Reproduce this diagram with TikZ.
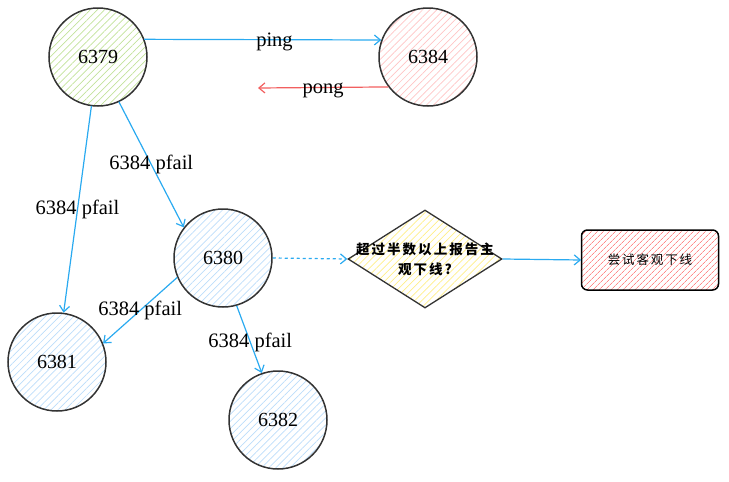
\documentclass[tikz,border=0pt]{standalone}
\usepackage{fontspec}
\setmainfont{Liberation Serif}
\newfontfamily\cjk[LetterSpace=15]{Noto Sans CJK SC}
\usetikzlibrary{arrows.meta,patterns.meta,shapes.geometric}

\definecolor{inkgray}{HTML}{333333}
\definecolor{linkblue}{HTML}{2AAAF0}
\definecolor{pongred}{HTML}{F25F5F}
\definecolor{hgreen}{HTML}{C2E29A}
\definecolor{hpink}{HTML}{FFC4C4}
\definecolor{hblue}{HTML}{BCDDFA}
\definecolor{hyellow}{HTML}{FFEE88}
\definecolor{hred}{HTML}{FF8A8A}

\begin{document}
\begin{tikzpicture}[x=1pt,y=1pt,>={Straight Barb[length=6pt,width=10pt]},
    port/.style={circle,draw=inkgray,line width=1.5pt,minimum size=98pt,inner sep=0pt,
      font=\fontsize{20}{24}\selectfont},
    hatch/.style={pattern={Lines[angle=45,distance=5pt,line width=0.7pt]},pattern color=#1},
    link/.style={->,draw=linkblue,line width=1.2pt},
    lbl/.style={font=\fontsize{20.5}{24}\selectfont,inner sep=1pt}]
    \useasboundingbox (0,0) rectangle (729,-482);
    % cluster nodes
    \node[port,hatch=hgreen] (n6379) at (98,-57) {6379};
    \node[port,hatch=hpink] (n6384) at (428,-57) {6384};
    \node[port,hatch=hblue] (n6380) at (223,-258) {6380};
    \node[port,hatch=hblue] (n6381) at (57,-362) {6381};
    \node[port,hatch=hblue] (n6382) at (278,-420) {6382};
    % decision and result
    \node[diamond,draw=inkgray,line width=1.3pt,minimum width=154pt,minimum height=98pt,
      inner sep=0pt,hatch=hyellow] (chk) at (425,-259) {};
    \node[font=\cjk\bfseries\fontsize{13.5}{20}\selectfont,align=center] (chktxt) at (chk)
      {超过半数以上报告主\\观下线?};
    \node[rectangle,rounded corners=6pt,draw=black,line width=1.5pt,minimum width=137pt,
      minimum height=60pt,pattern={Lines[angle=45,distance=4pt,line width=0.8pt]},
      pattern color=hred,font=\cjk\fontsize{12.5}{15}\selectfont] (odown) at (650,-260) {尝试客观下线};
    \coordinate (pongend) at (258,-88);
    % messages
    \draw[link] (n6379.21) -- node[lbl,pos=0.55,yshift=-2pt] {ping} (n6384.160);
    \draw[->,draw=pongred,line width=1.2pt] (n6384.217) -- node[lbl,pos=0.5,yshift=-3pt] {pong} (pongend);
    \draw[link] (n6379) -- node[lbl,pos=0.5] {6384 pfail} (n6381);
    \draw[link] (n6379.-65) -- node[lbl,pos=0.5] {6384 pfail} (n6380.142);
    \draw[link] (n6380.203) -- node[lbl,pos=0.5] {6384 pfail} (n6381.22);
    \draw[link] (n6380.-74) -- node[lbl,pos=0.54] {6384 pfail} (n6382.109);
    \draw[link,dashed] (n6380.east) -- (chk.west);
    \draw[link] (chk.east) -- (odown.west);
\end{tikzpicture}
\end{document}
